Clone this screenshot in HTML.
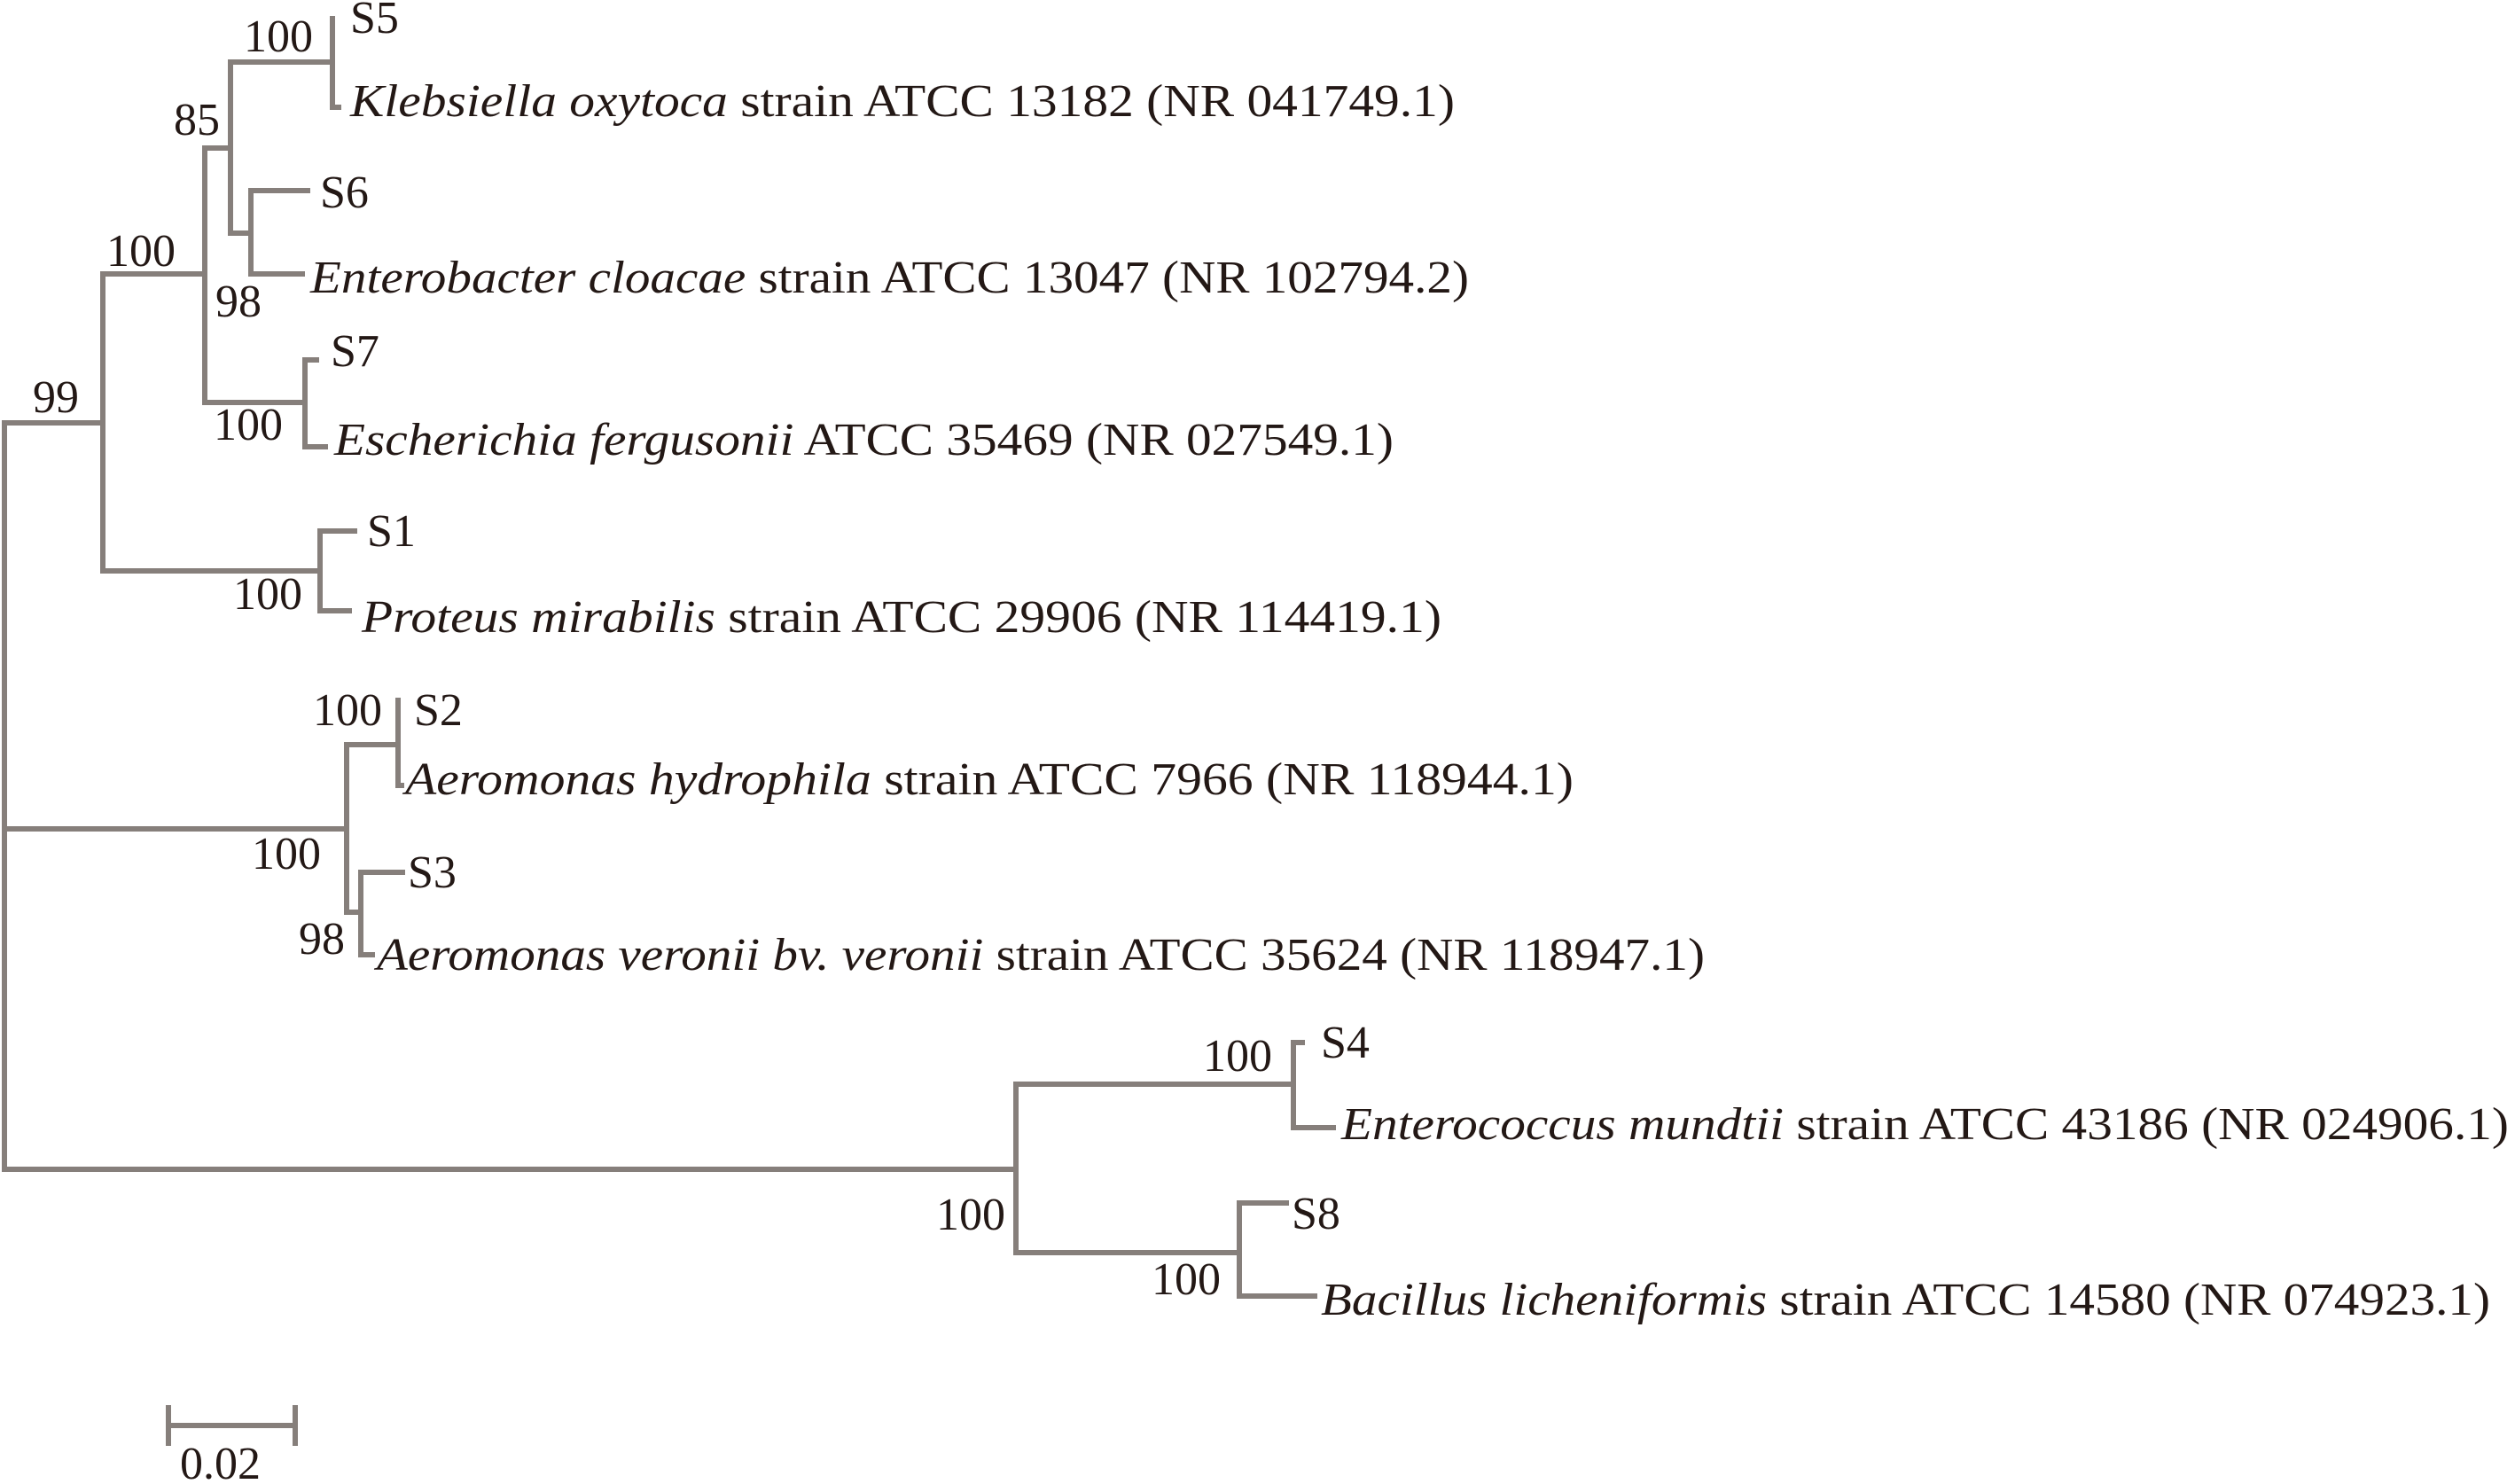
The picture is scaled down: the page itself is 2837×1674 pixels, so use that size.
<!DOCTYPE html>
<html><head><meta charset="utf-8"><style>
html,body{margin:0;padding:0;background:#fff;}
svg{display:block;}
text{font-family:"Liberation Serif",serif;font-size:52px;fill:#231815;}
.i{font-style:italic;}
</style></head><body>
<svg width="2837" height="1674" viewBox="0 0 2837 1674" xmlns="http://www.w3.org/2000/svg">
<g stroke="#867f7b" stroke-width="6" fill="none" stroke-linecap="square">
<path d="M5,477 V1319"/>
<path d="M5,477 H116 M116,309 V644"/>
<path d="M116,309 H231 M231,167 V454"/>
<path d="M231,167 H260 M260,70 V263"/>
<path d="M260,70 H375 M375,21 V121 H382"/>
<path d="M260,263 H283 M283,215 V309 M283,215 H347 M283,309 H341"/>
<path d="M231,454 H344 M344,406 V504 M344,406 H357 M344,504 H367"/>
<path d="M116,644 H361 M361,599 V689 M361,599 H400 M361,689 H394"/>
<path d="M5,935 H391 M391,840 V1029"/>
<path d="M391,840 H449 M449,790 V886 H453"/>
<path d="M391,1029 H407 M407,984 V1077 M407,984 H454 M407,1077 H420"/>
<path d="M5,1319 H1146 M1146,1223 V1413"/>
<path d="M1146,1223 H1459 M1459,1176 V1272 M1459,1176 H1469 M1459,1272 H1504"/>
<path d="M1146,1413 H1398 M1398,1357 V1462 M1398,1357 H1451 M1398,1462 H1483"/>
<path d="M190,1608 H333 M190,1588 V1628 M333,1588 V1628"/>
</g>
<text x="275" y="58">100</text>
<text x="196" y="152">85</text>
<text x="120" y="300">100</text>
<text x="243" y="357">98</text>
<text x="37" y="465">99</text>
<text x="241" y="496">100</text>
<text x="263" y="687">100</text>
<text x="353" y="818">100</text>
<text x="284" y="980">100</text>
<text x="337" y="1076">98</text>
<text x="1357" y="1208">100</text>
<text x="1056" y="1387">100</text>
<text x="1299" y="1460">100</text>
<text x="395" y="37">S5</text>
<text x="395" y="131" textLength="1246" lengthAdjust="spacingAndGlyphs"><tspan class="i">Klebsiella oxytoca</tspan> strain ATCC 13182 (NR 041749.1)</text>
<text x="361" y="234">S6</text>
<text x="350" y="330" textLength="1307" lengthAdjust="spacingAndGlyphs"><tspan class="i">Enterobacter cloacae</tspan> strain ATCC 13047 (NR 102794.2)</text>
<text x="373" y="413">S7</text>
<text x="377" y="513" textLength="1195" lengthAdjust="spacingAndGlyphs"><tspan class="i">Escherichia fergusonii</tspan> ATCC 35469 (NR 027549.1)</text>
<text x="414" y="616">S1</text>
<text x="408" y="713" textLength="1218" lengthAdjust="spacingAndGlyphs"><tspan class="i">Proteus mirabilis</tspan> strain ATCC 29906 (NR 114419.1)</text>
<text x="467" y="818">S2</text>
<text x="457" y="896" textLength="1318" lengthAdjust="spacingAndGlyphs"><tspan class="i">Aeromonas hydrophila</tspan> strain ATCC 7966 (NR 118944.1)</text>
<text x="460" y="1001">S3</text>
<text x="425" y="1094" textLength="1498" lengthAdjust="spacingAndGlyphs"><tspan class="i">Aeromonas veronii bv. veronii</tspan> strain ATCC 35624 (NR 118947.1)</text>
<text x="1490" y="1193">S4</text>
<text x="1513" y="1285" textLength="1317" lengthAdjust="spacingAndGlyphs"><tspan class="i">Enterococcus mundtii</tspan> strain ATCC 43186 (NR 024906.1)</text>
<text x="1457" y="1386">S8</text>
<text x="1490" y="1483" textLength="1319" lengthAdjust="spacingAndGlyphs"><tspan class="i">Bacillus licheniformis</tspan> strain ATCC 14580 (NR 074923.1)</text>
<text x="203" y="1668">0.02</text>
</svg>
</body></html>
